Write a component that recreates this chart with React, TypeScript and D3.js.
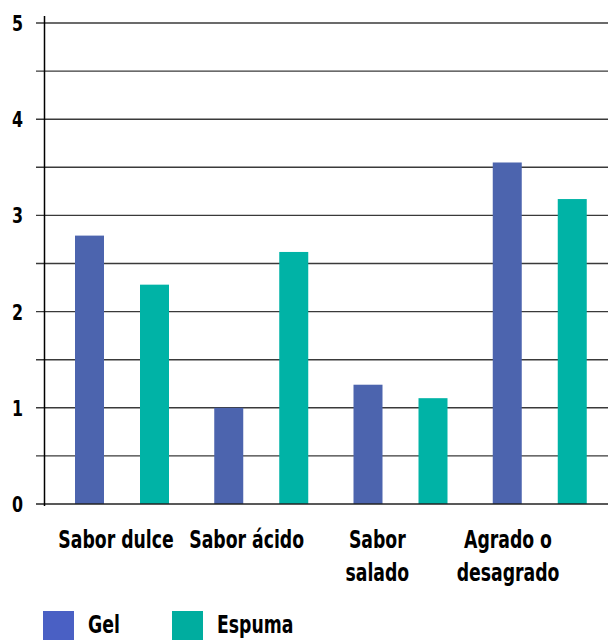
import { useEffect, useRef } from 'react';
import * as d3 from 'd3';

const categories = ['Sabor dulce', 'Sabor ácido', 'Sabor salado', 'Agrado o desagrado'];
const categoryLines = [['Sabor dulce'], ['Sabor ácido'], ['Sabor', 'salado'], ['Agrado o', 'desagrado']];
const gelValues = [2.79, 1.0, 1.24, 3.55];
const espumaValues = [2.28, 2.62, 1.1, 3.17];
const seriesNames = ['Gel', 'Espuma'];
const yTicks = [0, 1, 2, 3, 4, 5];
const gridValues = [0.5, 1, 1.5, 2, 2.5, 3, 3.5, 4, 4.5, 5];

const WIDTH = 608;
const HEIGHT = 640;
const FONT = "'DejaVu Sans Condensed', 'DejaVu Sans', sans-serif";
// the reference uses a narrow bold face, so squeeze the text a bit
const SQUEEZE = 0.8;

export default function App() {
  const svgRef = useRef<SVGSVGElement>(null);

  useEffect(() => {
    if (!svgRef.current) return;
    const svg = d3.select(svgRef.current);
    svg.selectAll('*').remove();

    const y = d3.scaleLinear().domain([0, 5]).range([504, 23]);
    const x = d3.scaleBand<string>().domain(categories).range([45, 602]).padding(0);
    const labelX = d3.scalePoint<string>().domain(categories).range([116, 508]);
    const barW = 29;

    // Grid lines
    svg.append('g')
      .selectAll('line')
      .data(gridValues)
      .join('line')
      .attr('x1', 36)
      .attr('x2', WIDTH)
      .attr('y1', (d) => y(d))
      .attr('y2', (d) => y(d))
      .style('stroke', '#3a3a3a')
      .style('stroke-width', 1.4);

    // Bars
    const series = [
      { name: seriesNames[0], values: gelValues, color: '#4c64ae', offset: 30 },
      { name: seriesNames[1], values: espumaValues, color: '#00b3a6', offset: 95 }
    ];
    series.forEach((s) => {
      svg.append('g')
        .selectAll('rect')
        .data(categories)
        .join('rect')
        .attr('x', (c) => (x(c) ?? 0) + s.offset)
        .attr('width', barW)
        .attr('y', (_, i) => y(s.values[i]))
        .attr('height', (_, i) => y(0) - y(s.values[i]))
        .style('fill', s.color);
    });

    // Baseline + y axis
    svg.append('line')
      .attr('x1', 36).attr('x2', WIDTH)
      .attr('y1', y(0)).attr('y2', y(0))
      .style('stroke', '#222').style('stroke-width', 1.5);
    svg.append('line')
      .attr('x1', 44.5).attr('x2', 44.5)
      .attr('y1', 16).attr('y2', 506)
      .style('stroke', '#000').style('stroke-width', 1.5);

    // Y tick labels
    svg.append('g')
      .selectAll('g')
      .data(yTicks)
      .join('g')
      .attr('transform', (d) => `translate(23,${y(d)}) scale(${SQUEEZE},1)`)
      .append('text')
      .attr('dy', '0.36em')
      .attr('text-anchor', 'end')
      .style('font-family', FONT)
      .style('font-weight', 'bold')
      .style('font-size', '22px')
      .style('fill', '#000')
      .text((d) => d);

    // Category labels
    const cat = svg.append('g')
      .selectAll('g')
      .data(categories)
      .join('g')
      .attr('transform', (c) => `translate(${labelX(c) ?? 0},548) scale(${SQUEEZE},1)`)
      .append('text')
      .attr('text-anchor', 'middle')
      .style('font-family', FONT)
      .style('font-weight', 'bold')
      .style('font-size', '24px')
      .style('fill', '#000');
    cat.each(function (_, i) {
      const t = d3.select(this);
      categoryLines[i].forEach((line, j) => {
        t.append('tspan')
          .attr('x', 0)
          .attr('dy', j === 0 ? 0 : 33)
          .text(line);
      });
    });

    // Legend
    const legendColors = ['#4a60c4', '#00ad9f'];
    const legend = svg.append('g')
      .selectAll('g')
      .data(seriesNames)
      .join('g')
      .attr('transform', (_, i) => `translate(${43 + i * 129},611)`);
    legend.append('rect')
      .attr('width', 31)
      .attr('height', 31)
      .style('fill', (_, i) => legendColors[i]);
    legend.append('g')
      .attr('transform', `translate(45,22) scale(${SQUEEZE},1)`)
      .append('text')
      .style('font-family', FONT)
      .style('font-weight', 'bold')
      .style('font-size', '24px')
      .style('fill', '#000')
      .text((d) => d);
  }, []);

  return (
    <div style={{ position: 'fixed', left: 0, top: 0 }}>
      <svg ref={svgRef} width={WIDTH} height={HEIGHT} style={{ display: 'block', background: '#fff' }} />
    </div>
  );
}
